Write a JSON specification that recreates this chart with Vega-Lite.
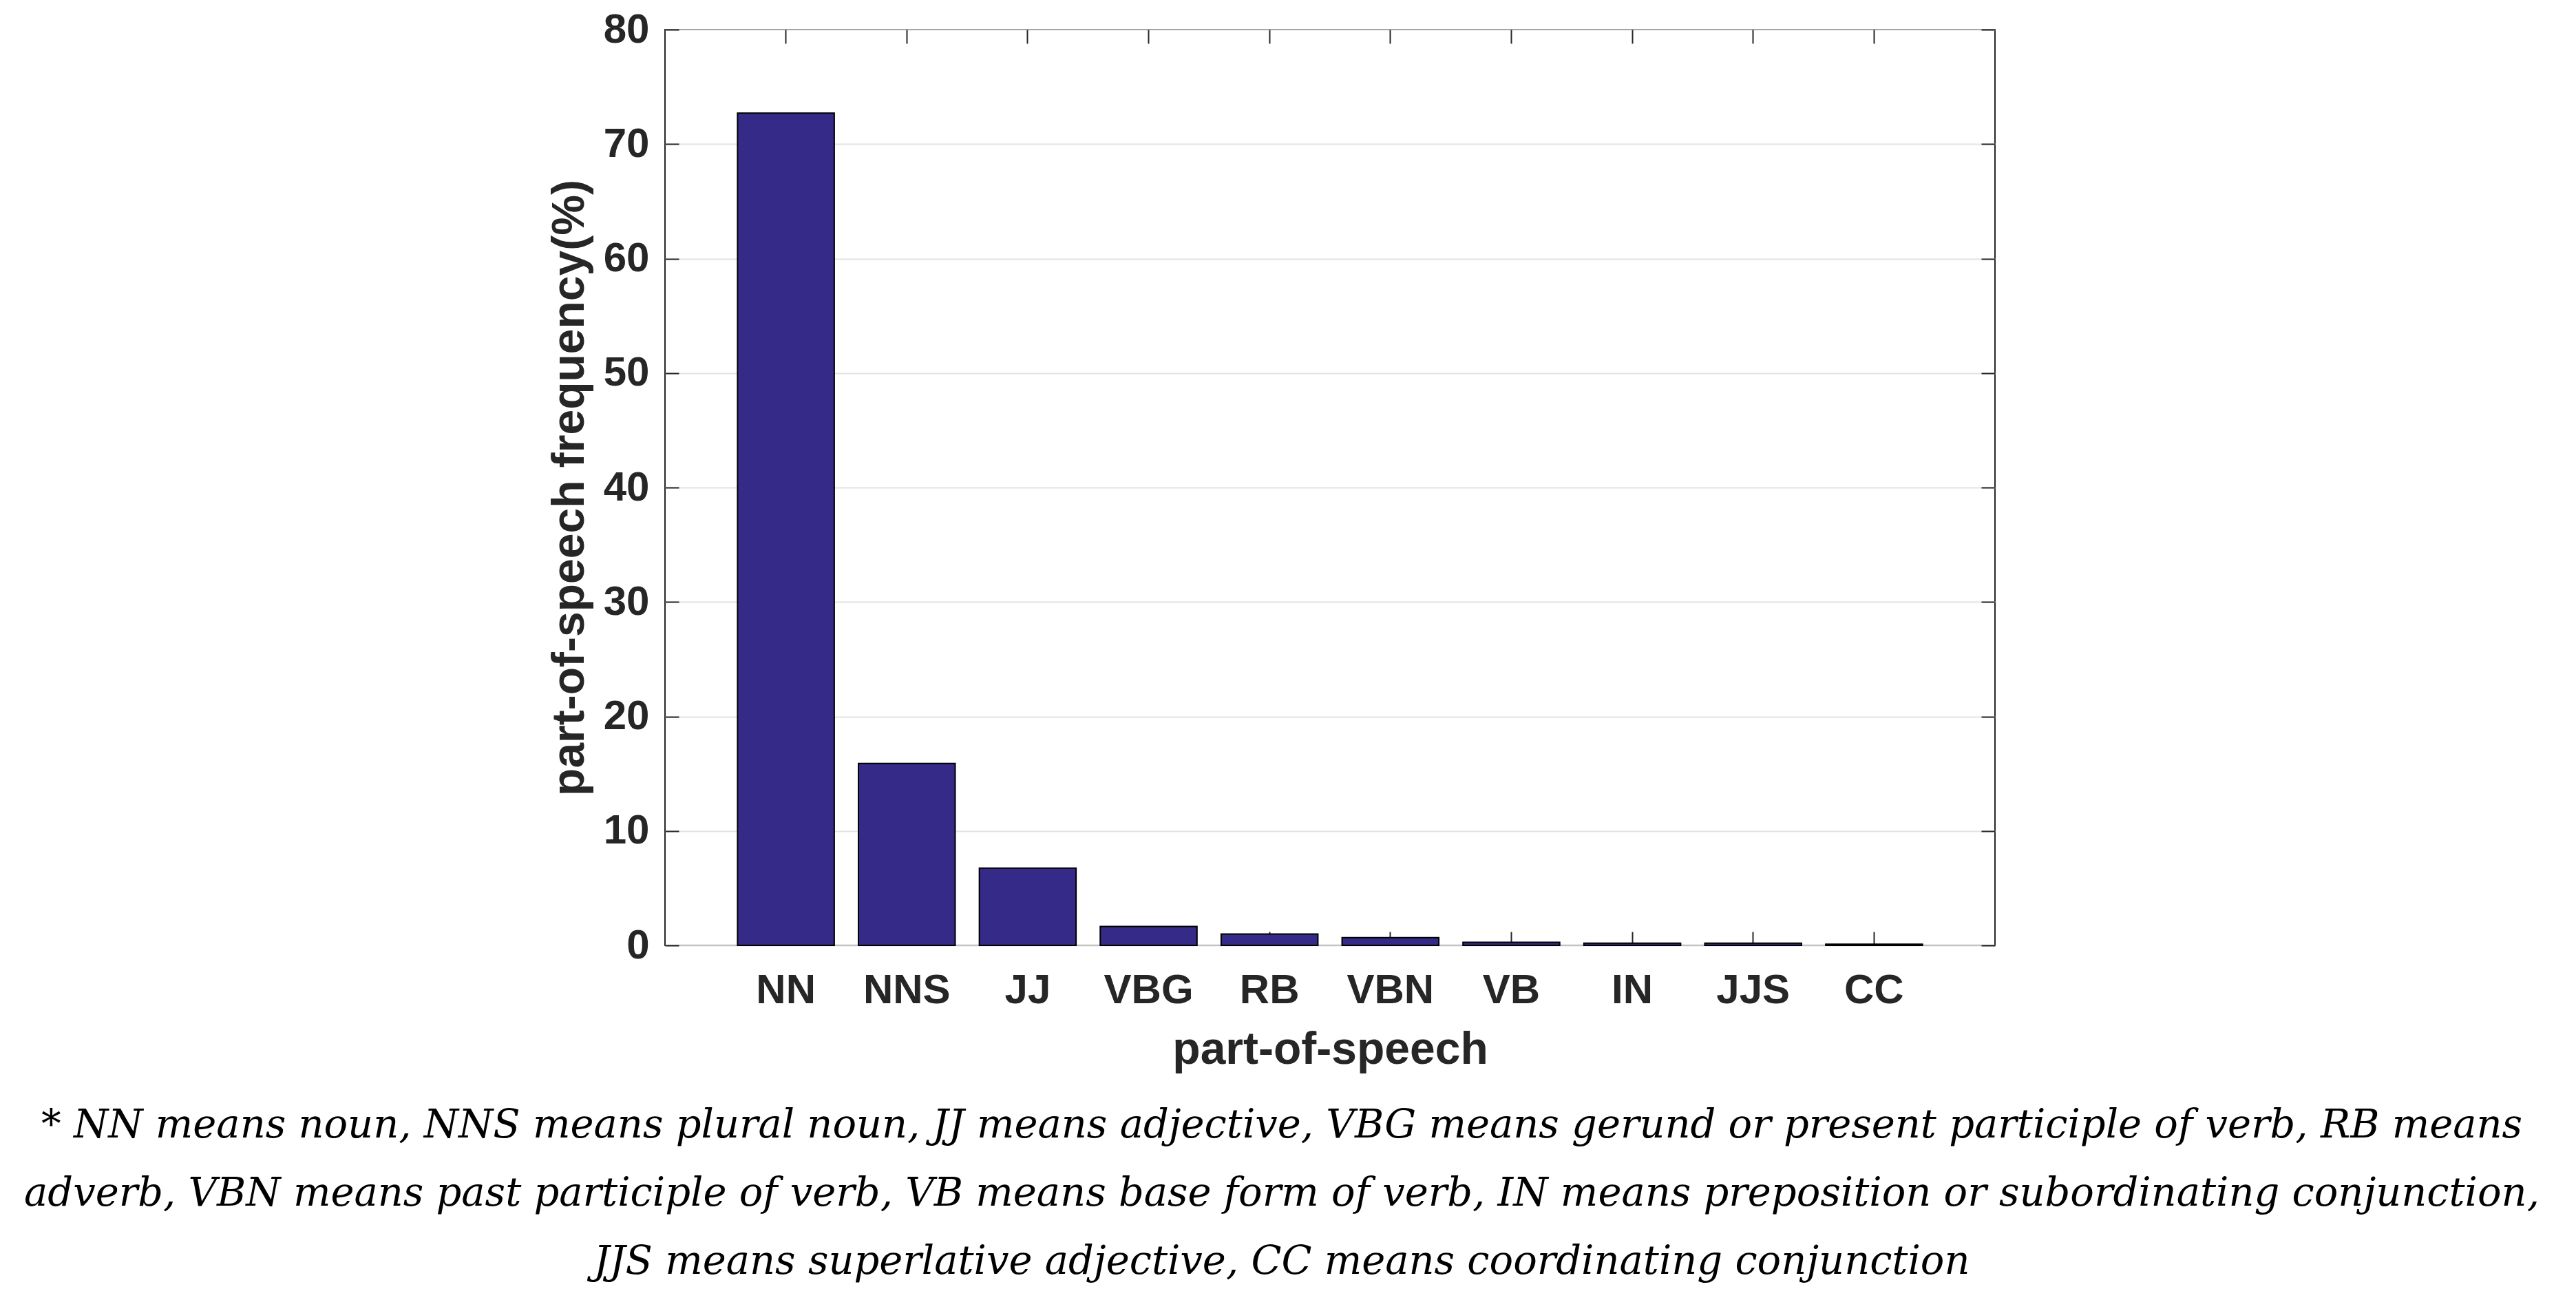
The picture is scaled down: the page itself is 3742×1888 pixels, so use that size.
{
  "$schema": "https://vega.github.io/schema/vega-lite/v6.json",
  "width": 1932,
  "height": 1330,
  "autosize": {"type": "none"},
  "padding": {"left": 966, "top": 43, "right": 844, "bottom": 515},
  "background": "white",
  "config": {
    "view": {"stroke": "#262626", "strokeWidth": 2},
    "font": "Liberation Sans"
  },
  "data": {
    "values": [
      {"pos": "NN", "freq": 72.7},
      {"pos": "NNS", "freq": 15.9},
      {"pos": "JJ", "freq": 6.75},
      {"pos": "VBG", "freq": 1.65},
      {"pos": "RB", "freq": 1.0},
      {"pos": "VBN", "freq": 0.68},
      {"pos": "VB", "freq": 0.27},
      {"pos": "IN", "freq": 0.2},
      {"pos": "JJS", "freq": 0.2},
      {"pos": "CC", "freq": 0.1}
    ]
  },
  "title": {
    "text": [
      "* NN means noun, NNS means plural noun, JJ means adjective, VBG means gerund or present participle of verb, RB means",
      "adverb, VBN means past participle of verb, VB means base form of verb, IN means preposition or subordinating conjunction,",
      "JJS means superlative adjective, CC means coordinating conjunction"
    ],
    "orient": "bottom",
    "anchor": "middle",
    "frame": "group",
    "dx": -70,
    "offset": 50,
    "font": "DejaVu Serif",
    "fontStyle": "italic",
    "fontWeight": "normal",
    "fontSize": 57.5,
    "lineHeight": 99,
    "color": "black"
  },
  "layer": [
    {
      "mark": {"type": "bar", "fill": "#352a87", "stroke": "#000000", "strokeWidth": 2},
      "encoding": {
        "x": {
          "field": "pos",
          "type": "nominal",
          "sort": null,
          "scale": {"paddingInner": 0.2, "paddingOuter": 0.6},
          "axis": {
            "orient": "bottom",
            "title": "part-of-speech",
            "labelAngle": 0,
            "labelFont": "Liberation Sans",
            "labelFontWeight": "bold",
            "labelFontSize": 60,
            "labelColor": "#262626",
            "labelPadding": 56,
            "tickSize": -20,
            "tickWidth": 2,
            "tickColor": "#262626",
            "domain": false,
            "grid": false,
            "titleFont": "Liberation Sans",
            "titleFontWeight": "bold",
            "titleFontSize": 66,
            "titleColor": "#262626",
            "titlePadding": 24
          }
        },
        "y": {
          "field": "freq",
          "type": "quantitative",
          "scale": {"domain": [0, 80], "nice": false},
          "axis": {
            "orient": "left",
            "title": "part-of-speech frequency(%)",
            "values": [0, 10, 20, 30, 40, 50, 60, 70, 80],
            "labelFont": "Liberation Sans",
            "labelFontWeight": "bold",
            "labelFontSize": 60,
            "labelColor": "#262626",
            "labelPadding": 43,
            "tickSize": -20,
            "tickWidth": 2,
            "tickColor": "#262626",
            "domain": false,
            "grid": true,
            "gridColor": "#e3e3e3",
            "gridWidth": 2,
            "titleFont": "Liberation Sans",
            "titleFontWeight": "bold",
            "titleFontSize": 66,
            "titleColor": "#262626",
            "titlePadding": 15
          }
        }
      }
    },
    {
      "mark": {"type": "bar", "opacity": 0},
      "encoding": {
        "x": {
          "field": "pos",
          "type": "nominal",
          "sort": null,
          "axis": {
            "orient": "top",
            "title": null,
            "labels": false,
            "tickSize": -20,
            "tickWidth": 2,
            "tickColor": "#262626",
            "domain": false,
            "grid": false
          }
        },
        "y": {
          "field": "freq",
          "type": "quantitative",
          "axis": {
            "orient": "right",
            "title": null,
            "labels": false,
            "values": [0, 10, 20, 30, 40, 50, 60, 70, 80],
            "tickSize": -20,
            "tickWidth": 2,
            "tickColor": "#262626",
            "domain": false,
            "grid": false
          }
        }
      }
    }
  ],
  "resolve": {"axis": {"x": "independent", "y": "independent"}}
}
